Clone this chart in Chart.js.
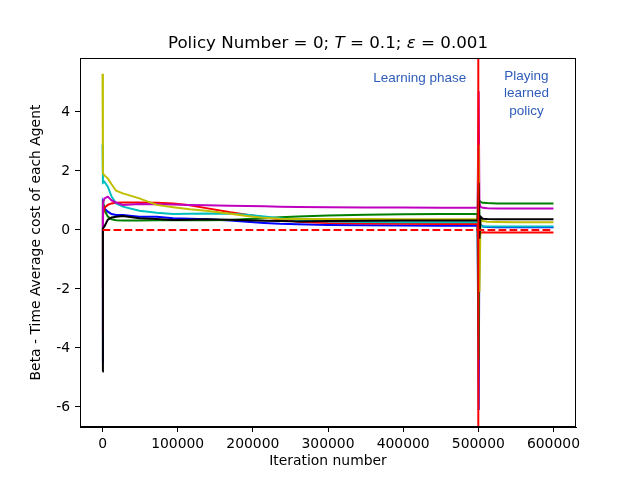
<!DOCTYPE html>
<html>
<head>
<meta charset="utf-8">
<script src="https://cdn.jsdelivr.net/npm/chart.js@4.4.1/dist/chart.umd.min.js"></script>
<style>
  html, body { margin: 0; padding: 0; background: #fff; }
</style>
</head>
<body>
<canvas id="beta" width="640" height="480"></canvas>
<script>
// iteration grid (learning phase, then playing phase after the switch)
const learnIters = [0, 500, 2500, 7000, 12000, 18000, 27000, 49000, 72000, 94000, 116000,
                    138000, 170000, 192000, 215000, 236000, 260000, 300000, 350000, 400000, 450000, 499000];
const playIters = [500500, 501500, 503000, 506000, 512000, 525000, 550000, 575000, 600000];

// time average cost per agent
const blueAgent    = [-4.5, 0.9, 0.73, 0.62, 0.54, 0.51, 0.51, 0.45, 0.45, 0.40, 0.38, 0.36, 0.32, 0.28, 0.24, 0.21, 0.19, 0.17, 0.16, 0.15, 0.14, 0.14,
                      -6.1, 0.3, 0.18, 0.12, 0.10, 0.09, 0.09, 0.09, 0.09];
const greenAgent   = [-2.0, 1.0, 0.68, 0.45, 0.36, 0.33, 0.32, 0.32, 0.33, 0.34, 0.33, 0.33, 0.34, 0.37, 0.40, 0.43, 0.46, 0.49, 0.52, 0.53, 0.54, 0.55,
                      -4.4, 1.0, 0.95, 0.92, 0.91, 0.90, 0.90, 0.90, 0.90];
const redAgent     = [-1.0, 0.5, 0.75, 0.85, 0.90, 0.92, 0.93, 0.93, 0.92, 0.90, 0.84, 0.74, 0.60, 0.52, 0.43, 0.36, 0.28, 0.24, 0.22, 0.21, 0.20, 0.20,
                      -0.5, -0.2, -0.1, -0.08, -0.09, -0.09, -0.09, -0.09, -0.09];
const cyanAgent    = [2.9, 1.6, 1.64, 1.47, 1.13, 0.90, 0.79, 0.65, 0.58, 0.54, 0.55, 0.56, 0.55, 0.52, 0.46, 0.40, 0.34, 0.29, 0.27, 0.26, 0.26, 0.26,
                      0.5, 0.2, 0.14, 0.12, 0.12, 0.12, 0.12, 0.12, 0.12];
const magentaAgent = [-3.5, 0.9, 1.07, 1.13, 1.0, 0.93, 0.85, 0.88, 0.87, 0.86, 0.85, 0.84, 0.82, 0.81, 0.80, 0.79, 0.78, 0.77, 0.76, 0.76, 0.75, 0.75,
                      4.7, 0.9, 0.78, 0.75, 0.74, 0.73, 0.73, 0.73, 0.73];
const yellowAgent  = [5.3, 1.92, 1.85, 1.75, 1.55, 1.33, 1.24, 1.07, 0.85, 0.77, 0.70, 0.65, 0.55, 0.47, 0.41, 0.38, 0.37, 0.37, 0.37, 0.36, 0.36, 0.36,
                      2.9, -2.1, 0.4, 0.3, 0.28, 0.27, 0.26, 0.26, 0.26];
const blackAgent   = [-4.8, 0.05, 0.12, 0.35, 0.42, 0.45, 0.47, 0.40, 0.37, 0.34, 0.35, 0.36, 0.35, 0.33, 0.31, 0.30, 0.29, 0.30, 0.31, 0.32, 0.32, 0.32,
                      1.6, -0.3, 0.45, 0.38, 0.37, 0.36, 0.36, 0.36, 0.36];

const zeroIters = [0, 600000];
const zeroValues = [0, 0];
const switchIter = 500000;

const xTicks = [0, 100000, 200000, 300000, 400000, 500000, 600000];
const yTicks = [-6, -4, -2, 0, 2, 4];
const xLimits = [-30000, 630000];
const yLimits = [-6.68, 5.83];

const allIters = learnIters.concat(playIters);

function toPoints(xs, ys) {
    return xs.map((x, i) => ({ x: x, y: ys[i] }));
}

function agentSet(values, color, order) {
    return {
        data: toPoints(allIters, values),
        borderColor: color,
        borderWidth: 2,
        pointRadius: 0,
        tension: 0,
        order: order
    };
}

const tickFont = { family: 'DejaVu Sans', size: 13.9 };

// title with italic T and epsilon, like mathtext
const mathTitle = {
    id: 'mathTitle',
    afterDraw(chart) {
        const ctx = chart.ctx;
        const area = chart.chartArea;
        const parts = [
            ['Policy Number = 0; ', false],
            ['T', true],
            [' = 0.1; ', false],
            ['ε', true],
            [' = 0.001', false]
        ];
        const size = 16.7;
        let total = 0;
        ctx.save();
        for (const p of parts) {
            ctx.font = (p[1] ? 'oblique ' : '') + size + 'px "DejaVu Sans"';
            total += ctx.measureText(p[0]).width;
        }
        let x = (area.left + area.right) / 2 - total / 2;
        ctx.fillStyle = '#000';
        ctx.textBaseline = 'alphabetic';
        ctx.textAlign = 'left';
        for (const p of parts) {
            ctx.font = (p[1] ? 'oblique ' : '') + size + 'px "DejaVu Sans"';
            ctx.fillText(p[0], x, area.top - 10);
            x += ctx.measureText(p[0]).width;
        }
        ctx.restore();
    }
};

// frame + phase labels
const phaseText = {
    id: 'phaseText',
    afterDatasetsDraw(chart) {
        const ctx = chart.ctx;
        const a = chart.chartArea;
        const xs = chart.scales.x, ys = chart.scales.y;
        ctx.save();
        ctx.strokeStyle = '#000';
        ctx.lineWidth = 1;
        ctx.strokeRect(a.left + 0.5, a.top + 0.5, a.right - a.left - 1, a.bottom - a.top - 1);

        ctx.font = '13.5px "Liberation Sans"';
        ctx.fillStyle = '#2f5cba';
        ctx.textAlign = 'center';
        ctx.textBaseline = 'middle';
        ctx.fillText('Learning phase', xs.getPixelForValue(422000), ys.getPixelForValue(5.15));
        const px = xs.getPixelForValue(564000);
        ctx.fillText('Playing', px, ys.getPixelForValue(5.22));
        ctx.fillText('learned', px, ys.getPixelForValue(4.63));
        ctx.fillText('policy', px, ys.getPixelForValue(4.04));
        ctx.restore();
    }
};

const ctx = document.getElementById('beta').getContext('2d');
new Chart(ctx, {
    type: 'line',
    data: {
        datasets: [
            {
                data: [{ x: switchIter, y: yLimits[0] }, { x: switchIter, y: yLimits[1] }],
                borderColor: '#ff0000',
                borderWidth: 2,
                pointRadius: 0,
                order: 0
            },
            {
                data: toPoints(zeroIters, zeroValues),
                borderColor: '#ff0000',
                borderWidth: 2,
                borderDash: [7.7, 3.3],
                pointRadius: 0,
                order: 1
            },
            agentSet(blackAgent, '#000000', 2),
            agentSet(yellowAgent, '#bfbf00', 3),
            agentSet(magentaAgent, '#bf00bf', 4),
            agentSet(cyanAgent, '#00bfbf', 5),
            agentSet(redAgent, '#ff0000', 6),
            agentSet(greenAgent, '#008000', 7),
            agentSet(blueAgent, '#0000ff', 8)
        ]
    },
    options: {
        responsive: false,
        animation: false,
        layout: { padding: { top: 58, right: 64, left: 0, bottom: 0 } },
        plugins: {
            legend: { display: false },
            title: { display: false },
            tooltip: { enabled: false }
        },
        scales: {
            x: {
                type: 'linear',
                min: xLimits[0],
                max: xLimits[1],
                afterBuildTicks: (s) => { s.ticks = xTicks.map(v => ({ value: v })); },
                afterFit: (s) => { s.height = 53; },
                ticks: { autoSkip: false, maxRotation: 0, padding: 4, color: '#000', font: tickFont,
                         callback: (v) => String(v) },
                grid: { drawOnChartArea: false, drawTicks: true, tickLength: 5, color: '#000' },
                border: { display: true, color: '#000' },
                title: { display: true, text: 'Iteration number', color: '#000', font: tickFont,
                         padding: { top: 0, bottom: 10 } }
            },
            y: {
                type: 'linear',
                min: yLimits[0],
                max: yLimits[1],
                afterBuildTicks: (s) => { s.ticks = yTicks.map(v => ({ value: v })); },
                afterFit: (s) => { s.width = 80; },
                ticks: { padding: 5, color: '#000', font: tickFont, callback: (v) => String(v) },
                grid: { drawOnChartArea: false, drawTicks: true, tickLength: 5, color: '#000' },
                border: { display: true, color: '#000' },
                title: { display: true, text: 'Beta - Time Average cost of each Agent', color: '#000',
                         font: tickFont, padding: { top: 28, bottom: 0 } }
            }
        }
    },
    plugins: [mathTitle, phaseText]
});
</script>
</body>
</html>
